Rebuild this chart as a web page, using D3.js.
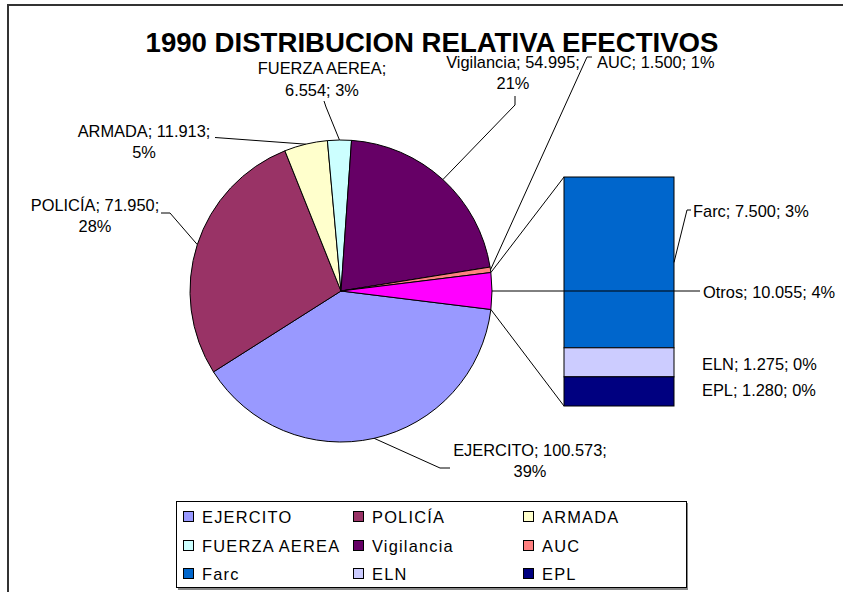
<!DOCTYPE html>
<html>
<head>
<meta charset="utf-8">
<script src="https://cdn.jsdelivr.net/npm/d3@7/dist/d3.min.js"></script>
<style>
  html, body { margin: 0; padding: 0; background: #fff; }
  svg { display: block; font-family: "Liberation Sans", Arial, sans-serif; }
</style>
</head>
<body>
<svg id="chart" width="843" height="592"></svg>
<script>
// ---- data ----
const pieCategories = ["EJERCITO", "POLICÍA", "ARMADA", "FUERZA AEREA", "Vigilancia", "AUC", "Otros"];
const pieValues     = [100573, 71950, 11913, 6554, 54995, 1500, 10055];
const pieLabelValues = ["100.573", "71.950", "11.913", "6.554", "54.995", "1.500", "10.055"];
const piePercents   = ["39%", "28%", "5%", "3%", "21%", "1%", "4%"];

const barCategories = ["Farc", "ELN", "EPL"];
const barValues     = [7500, 1275, 1280];
const barLabelValues = ["7.500", "1.275", "1.280"];
const barPercents   = ["3%", "0%", "0%"];

const legendOrder = ["EJERCITO", "POLICÍA", "ARMADA", "FUERZA AEREA", "Vigilancia", "AUC", "Farc", "ELN", "EPL"];
const title = "1990 DISTRIBUCION RELATIVA EFECTIVOS";

// ---- styles ----
const colors = {
  "EJERCITO": "#9999FF", "POLICÍA": "#993366", "ARMADA": "#FFFFCC",
  "FUERZA AEREA": "#CCFFFF", "Vigilancia": "#660066", "AUC": "#FF8080",
  "Otros": "#FF00FF", "Farc": "#0066CC", "ELN": "#CCCCFF", "EPL": "#000080"
};

const svg = d3.select("#chart");
const cx = 341, cy = 291, R = 151;

// frame
svg.append("path").attr("d", "M8,600 L8,5 L850,5")
  .attr("fill", "none").attr("stroke", "#333").attr("stroke-width", 2);

// title
svg.append("text").attr("x", 432).attr("y", 52).attr("text-anchor", "middle")
  .attr("font-size", 27.6).attr("font-weight", "bold").attr("fill", "#000").text(title);

// ---- pie ----
const total = d3.sum(pieValues);
const otrosAngle = 2 * Math.PI * pieValues[pieValues.length - 1] / total;
const start = Math.PI / 2 + otrosAngle / 2;
const pie = d3.pie().sort(null).value(d => d.v).startAngle(start).endAngle(start + 2 * Math.PI);
const pieData = pie(pieCategories.map((c, i) => ({ c, v: pieValues[i], i })));
const arc = d3.arc().innerRadius(0).outerRadius(R);
const g = svg.append("g").attr("transform", `translate(${cx},${cy})`);
g.selectAll("path").data(pieData).join("path")
  .attr("d", arc).attr("fill", d => colors[d.data.c])
  .attr("stroke", "#000").attr("stroke-width", 1).attr("stroke-linejoin", "round");

const pt = (a, r) => [cx + r * Math.sin(a), cy - r * Math.cos(a)];

// ---- bar of Otros ----
const barX0 = 564, barX1 = 674, barTop = 177, barBottom = 406;
const barTotal = d3.sum(barValues);
const yBar = d3.scaleLinear().domain([0, barTotal]).range([barTop, barBottom]);
let acc = 0;
const barData = barCategories.map((c, i) => { const d = { c, v: barValues[i], y0: acc, y1: acc + barValues[i], i }; acc += barValues[i]; return d; });

// connector lines
const otros = pieData[pieData.length - 1];
const pTop = pt(otros.startAngle, R), pBot = pt(otros.endAngle, R);
svg.append("line").attr("x1", pTop[0]).attr("y1", pTop[1]).attr("x2", barX0).attr("y2", yBar(0))
  .attr("stroke", "#000").attr("stroke-width", 1);
svg.append("line").attr("x1", pBot[0]).attr("y1", pBot[1]).attr("x2", barX0).attr("y2", yBar(barTotal))
  .attr("stroke", "#000").attr("stroke-width", 1);

svg.selectAll("rect.bar").data(barData).join("rect").attr("class", "bar")
  .attr("x", barX0).attr("width", barX1 - barX0)
  .attr("y", d => yBar(d.y0)).attr("height", d => yBar(d.y1) - yBar(d.y0))
  .attr("fill", d => colors[d.c]).attr("stroke", "#000").attr("stroke-width", 1);

// ---- labels & leaders ----
const fs = 16.4;
const line = d3.line();
function leader(points) {
  svg.append("path").attr("d", line(points)).attr("fill", "none").attr("stroke", "#000").attr("stroke-width", 1);
}
function label(lines, x, y0, anchor, dy = 21) {
  const t = svg.append("text").attr("font-size", fs).attr("text-anchor", anchor).attr("fill", "#000");
  lines.forEach((s, k) => t.append("tspan").attr("x", x).attr("y", y0 + k * dy).text(s));
}
const mid = d => (d.startAngle + d.endAngle) / 2;

// pie label layout: text x, first baseline, anchor, line break position, leader bends
const pieLabelLayout = {
  "EJERCITO":     { x: 530, y: 456, anchor: "middle", brk: 2, bends: [[440, 468], [450, 468]] },
  "POLICÍA":      { x: 95,  y: 210.5, anchor: "middle", brk: 2, bends: [[170, 213], [161, 213]] },
  "ARMADA":       { x: 144, y: 136.5, anchor: "middle", brk: 2, bends: [[215, 137.5]] },
  "FUERZA AEREA": { x: 322, y: 74, anchor: "middle", brk: 1, dy: 22, bends: [[326, 107], [324, 101]] },
  "Vigilancia":   { x: 513, y: 68, anchor: "middle", brk: 2, bends: [[515, 105], [515, 96]] },
  "AUC":          { x: 597, y: 68, anchor: "start", brk: 3, bends: [[587, 57], [592, 57]] },
  "Otros":        { x: 703, y: 297.5, anchor: "start", brk: 3, bends: [[700, 291]] }
};
pieData.forEach(d => {
  const c = d.data.c, L = pieLabelLayout[c], i = d.data.i;
  const a = (c === "Otros") ? Math.PI / 2 : mid(d);
  const p0 = pt(a, R);
  leader([p0, ...L.bends]);
  const parts = [c, pieLabelValues[i], piePercents[i]];
  const lines = L.brk >= 3 ? [parts.join("; ")]
    : [parts.slice(0, L.brk).join("; ") + ";", parts.slice(L.brk).join("; ")];
  label(lines, L.x, L.y, L.anchor, L.dy || 21);
});

const barLabelLayout = {
  "Farc": { x: 693, y: 217, bends: [[687, 210], [691, 210]] },
  "ELN":  { x: 702, y: 369.5 },
  "EPL":  { x: 702, y: 395.5 }
};
barData.forEach(d => {
  const L = barLabelLayout[d.c];
  if (L.bends) leader([[barX1, (yBar(d.y0) + yBar(d.y1)) / 2], ...L.bends]);
  label([`${d.c}; ${barLabelValues[d.i]}; ${barPercents[d.i]}`], L.x, L.y, "start");
});

// ---- legend ----
const lg = svg.append("g");
lg.append("rect").attr("x", 178).attr("y", 503).attr("width", 510).attr("height", 87).attr("fill", "#888");
lg.append("rect").attr("x", 176.5).attr("y", 501.5).attr("width", 510).attr("height", 86)
  .attr("fill", "#fff").attr("stroke", "#000").attr("stroke-width", 1);
const colX = [183, 353, 523], rowY = [517, 546, 574];
legendOrder.forEach((c, k) => {
  const x = colX[k % 3], y = rowY[Math.floor(k / 3)];
  lg.append("rect").attr("x", x + 0.5).attr("y", y - 5.5).attr("width", 10).attr("height", 10)
    .attr("fill", colors[c]).attr("stroke", "#000").attr("stroke-width", 1);
  lg.append("text").attr("x", x + 19).attr("y", y + 6).attr("font-size", 16.4)
    .attr("letter-spacing", 1.2).attr("fill", "#000").text(c);
});
</script>
</body>
</html>
